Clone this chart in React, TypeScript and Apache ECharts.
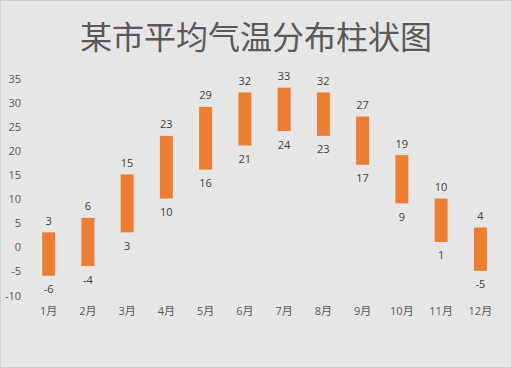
import React, { useEffect, useRef } from "react";
import * as echarts from "echarts";

const months = ["1月", "2月", "3月", "4月", "5月", "6月", "7月", "8月", "9月", "10月", "11月", "12月"];
const highTemps = [3, 6, 15, 23, 29, 32, 33, 32, 27, 19, 10, 4];
const lowTemps = [-6, -4, 3, 10, 16, 21, 24, 23, 17, 9, 1, -5];
const yTicks = { min: -10, max: 35, interval: 5 };
const titleText = "某市平均气温分布柱状图";

export default function App() {
  const ref = useRef<HTMLDivElement>(null);
  useEffect(() => {
    if (!ref.current) return;
    const chart = echarts.init(ref.current, undefined, { renderer: "svg" });
    const data = months.map((_, i) => [i, lowTemps[i], highTemps[i]]);
    const labelStyle = { fill: "#404040", fontSize: 11, fontFamily: "'Open Sans', 'Noto Sans', sans-serif" };
    chart.setOption({
      animation: false,
      backgroundColor: "#e7e6e6",
      title: {
        text: titleText,
        left: "center",
        top: 13,
        textStyle: {
          fontSize: 32,
          fontWeight: "normal",
          color: "#595959",
          fontFamily: "'Noto Sans CJK SC', sans-serif",
        },
      },
      grid: { left: 28, right: 11, top: 77, bottom: 72 },
      xAxis: {
        type: "category",
        data: months,
        axisLine: { show: false },
        axisTick: { show: false },
        axisLabel: {
          color: "#595959",
          fontSize: 11,
          margin: 10,
          fontFamily: "'Open Sans', 'Noto Sans CJK SC', sans-serif",
        },
      },
      yAxis: {
        type: "value",
        min: yTicks.min,
        max: yTicks.max,
        interval: yTicks.interval,
        splitLine: { show: false },
        axisLine: { show: false },
        axisTick: { show: false },
        axisLabel: {
          color: "#595959",
          fontSize: 11,
          margin: 8,
          fontFamily: "'Open Sans', 'Noto Sans', sans-serif",
        },
      },
      series: [
        {
          type: "custom",
          data,
          encode: { x: 0, y: [1, 2] },
          renderItem: (params: any, api: any) => {
            const idx = api.value(0);
            const lo = api.value(1);
            const hi = api.value(2);
            const top = api.coord([idx, hi]);
            const bot = api.coord([idx, lo]);
            const w = api.size([1, 0])[0] * 0.33;
            return {
              type: "group",
              children: [
                {
                  type: "rect",
                  shape: { x: top[0] - w / 2, y: top[1], width: w, height: bot[1] - top[1] },
                  style: { fill: "#ed7d31" },
                },
                {
                  type: "text",
                  style: {
                    ...labelStyle,
                    text: String(hi),
                    x: top[0],
                    y: top[1] - 12,
                    align: "center",
                    verticalAlign: "middle",
                  },
                },
                {
                  type: "text",
                  style: {
                    ...labelStyle,
                    text: String(lo),
                    x: bot[0],
                    y: bot[1] + 13,
                    align: "center",
                    verticalAlign: "middle",
                  },
                },
              ],
            };
          },
        },
      ],
    });
    return () => chart.dispose();
  }, []);
  return (
    <div
      style={{
        position: "fixed",
        left: 0,
        top: 0,
        width: 512,
        height: 368,
        boxSizing: "border-box",
        border: "1px solid #d0d0d0",
      }}
    >
      <div ref={ref} style={{ width: 510, height: 366 }} />
    </div>
  );
}
